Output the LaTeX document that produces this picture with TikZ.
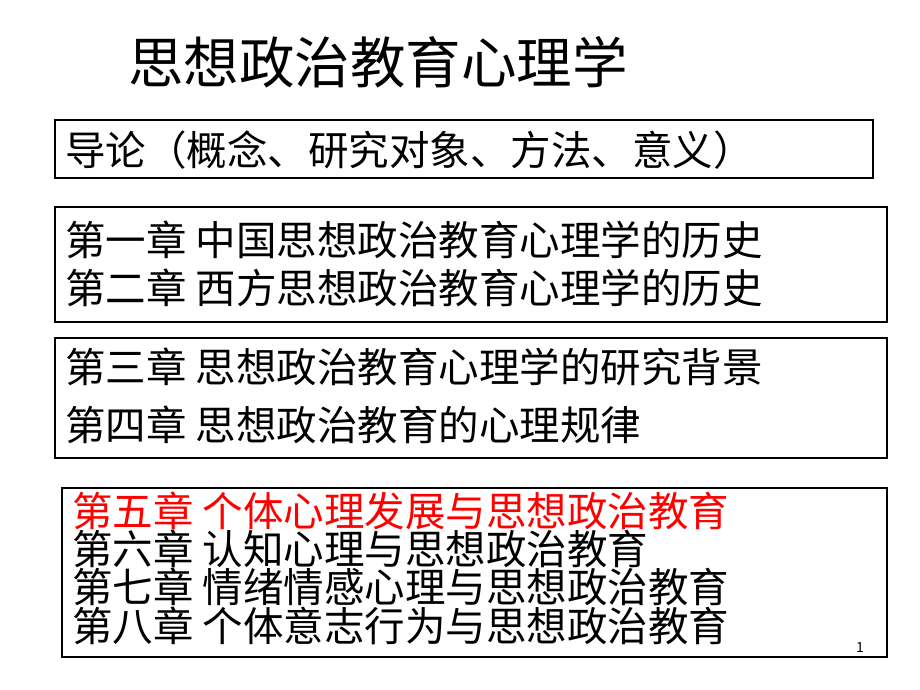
\documentclass[tikz,border=0pt]{standalone}
\usepackage{fontspec}
\setmainfont{Noto Sans CJK SC}
\usetikzlibrary{positioning}
\begin{document}
\begin{tikzpicture}[x=1pt,y=-1pt]
    \tikzset{frame/.style={draw=black,line width=1.2pt}}
    \tikzset{line/.style={anchor=west,inner sep=0pt,font=\fontsize{40.5}{40}\selectfont}}
    \useasboundingbox (0,0) rectangle (920,690);
    \node[anchor=west,inner sep=0pt,font=\fontsize{55.5}{56}\selectfont] (title) at (128,62) {思想政治教育心理学};
    \draw[frame] (55,120) rectangle (873,178);
    \node[line] (intro) at (65,150) {导论（概念、研究对象、方法、意义）};
    \draw[frame] (55,207) rectangle (887,322);
    \node[line] (c1) at (65,240) {第一章 中国思想政治教育心理学的历史};
    \node[line] (c2) at (65,288) {第二章 西方思想政治教育心理学的历史};
    \draw[frame] (55,338) rectangle (887,458);
    \node[line] (c3) at (65,367) {第三章 思想政治教育心理学的研究背景};
    \node[line] (c4) at (65,425) {第四章 思想政治教育的心理规律};
    \draw[frame] (62,488) rectangle (887,657);
    \node[line,text=red] (c5) at (72,511) {第五章 个体心理发展与思想政治教育};
    \node[line] (c6) at (72,549) {第六章 认知心理与思想政治教育};
    \node[line] (c7) at (72,587) {第七章 情绪情感心理与思想政治教育};
    \node[line] (c8) at (72,626) {第八章 个体意志行为与思想政治教育};
    \node[font=\fontsize{14}{14}\selectfont] (page) at (860,648) {1};
\end{tikzpicture}
\end{document}
